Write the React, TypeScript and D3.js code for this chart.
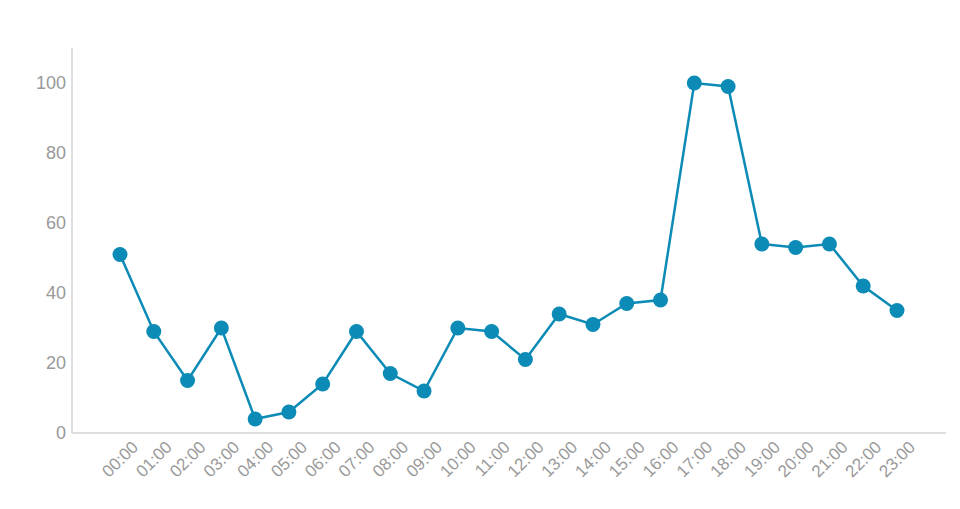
import { useEffect, useRef } from 'react'
import * as d3 from 'd3'

const hours = [
  '00:00', '01:00', '02:00', '03:00', '04:00', '05:00', '06:00', '07:00',
  '08:00', '09:00', '10:00', '11:00', '12:00', '13:00', '14:00', '15:00',
  '16:00', '17:00', '18:00', '19:00', '20:00', '21:00', '22:00', '23:00',
]
const counts = [51, 29, 15, 30, 4, 6, 14, 29, 17, 12, 30, 29, 21, 34, 31, 37, 38, 100, 99, 54, 53, 54, 42, 35]
const yTicks = [0, 20, 40, 60, 80, 100]

const width = 960
const height = 509

export default function App() {
  const svgRef = useRef<SVGSVGElement>(null)

  useEffect(() => {
    if (!svgRef.current) return
    const svg = d3.select(svgRef.current)
    svg.selectAll('*').remove()

    const left = 72
    const right = 946
    const top = 48
    const bottom = 433

    const x = d3.scalePoint<string>().domain(hours).range([120, 897])
    const y = d3.scaleLinear().domain([0, 110]).range([bottom, top])

    // axes lines
    svg.append('line')
      .attr('x1', left).attr('x2', left)
      .attr('y1', top).attr('y2', bottom)
      .attr('stroke', '#d4d4d4').attr('stroke-width', 1.5)
    svg.append('line')
      .attr('x1', left).attr('x2', right)
      .attr('y1', bottom).attr('y2', bottom)
      .attr('stroke', '#d4d4d4').attr('stroke-width', 1.5)

    // y tick labels
    svg.append('g')
      .selectAll('text')
      .data(yTicks)
      .join('text')
      .attr('x', left - 6)
      .attr('y', (d) => y(d))
      .attr('dy', '0.35em')
      .attr('text-anchor', 'end')
      .attr('font-family', 'Liberation Sans, Arial, sans-serif')
      .attr('font-size', 18)
      .attr('fill', '#999')
      .text((d) => d)

    // x tick labels
    svg.append('g')
      .selectAll('text')
      .data(hours)
      .join('text')
      .attr('transform', (d) => `translate(${(x(d) ?? 0) + 15}, ${bottom + 11}) rotate(-45)`)
      .attr('text-anchor', 'end')
      .attr('dy', '0.35em')
      .attr('font-family', 'Liberation Sans, Arial, sans-serif')
      .attr('font-size', 17)
      .attr('fill', '#999')
      .text((d) => d)

    const line = d3.line<number>()
      .x((_, i) => x(hours[i]) ?? 0)
      .y((d) => y(d))

    svg.append('path')
      .datum(counts)
      .attr('d', line)
      .attr('fill', 'none')
      .attr('stroke', '#0b8bb5')
      .attr('stroke-width', 2.5)

    svg.append('g')
      .selectAll('circle')
      .data(counts)
      .join('circle')
      .attr('cx', (_, i) => x(hours[i]) ?? 0)
      .attr('cy', (d) => y(d))
      .attr('r', 7.5)
      .attr('fill', '#0b8bb5')
  }, [])

  return (
    <svg
      ref={svgRef}
      width={width}
      height={height}
      style={{ position: 'absolute', left: 0, top: 0, background: '#fff' }}
    />
  )
}
